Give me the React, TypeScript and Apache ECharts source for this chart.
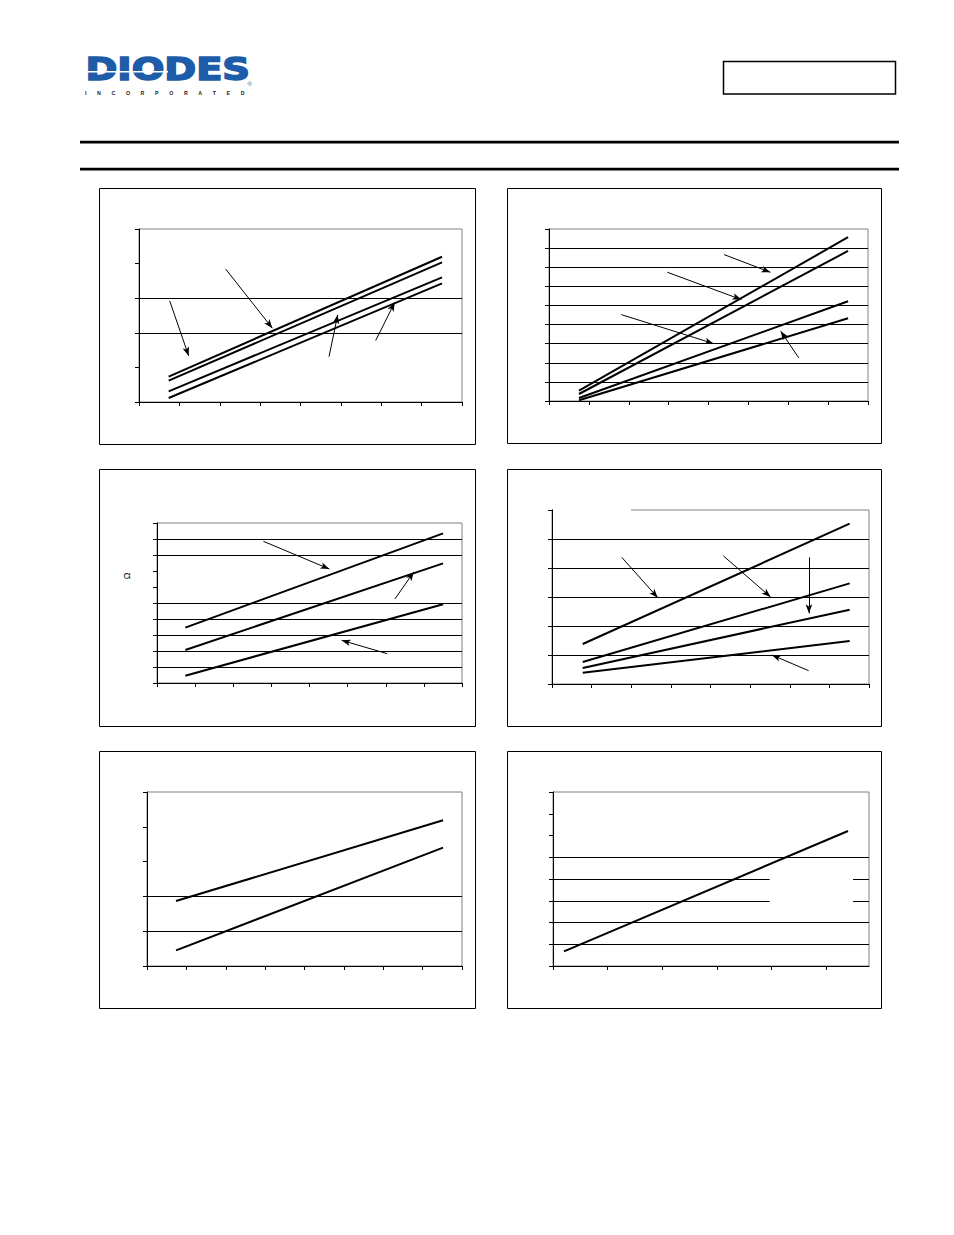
import React, { useEffect, useRef } from "react";
import * as echarts from "echarts";

// ---------- data (axis units = tick intervals) ----------
// Chart 1
const c1XMax = 8;
const c1YMax = 5;
const c1X = [0.735, 7.506];
const c1Lines = [[0.733, 4.199], [0.618, 4.035], [0.309, 3.6], [0.116, 3.427]];
const c1Grid = [2, 3];
const c1Arrows = [[0.76, 2.925, 1.231, 1.332], [2.147, 3.842, 3.303, 2.133], [4.707, 1.313, 4.922, 2.519], [5.862, 1.776, 6.333, 2.876]];

// Chart 2
const c2XMax = 8;
const c2YMax = 9;
const c2X = [0.752, 7.5];
const c2Lines = [[0.541, 8.569], [0.366, 7.853], [0.157, 5.218], [0.035, 4.328]];
const c2Grid = [1, 2, 3, 4, 5, 6, 7, 8];
const c2Arrows = [[4.39, 7.661, 5.552, 6.736], [2.968, 6.736, 4.824, 5.305], [1.814, 4.52, 4.13, 3.002], [6.263, 2.259, 5.811, 3.656]];

// Chart 3
const c3XMax = 8;
const c3YMax = 10;
const c3X = [0.742, 7.504];
const c3Lines = [[3.458, 9.354], [2.063, 7.479], [0.458, 4.917]];
const c3Grid = [1, 2, 3, 4, 5, 8, 9];
const c3Arrows = [[2.792, 8.854, 4.52, 7.125], [6.239, 5.25, 6.736, 6.938], [6.038, 1.833, 4.843, 2.667]];
const c3YName = "Ω";

// Chart 4
const c4XMax = 8;
const c4YMax = 6;
const c4X = [0.775, 7.512];
const c4Lines = [[1.379, 5.529], [0.759, 3.471], [0.552, 2.563], [0.391, 1.483]];
const c4Grid = [1, 2, 3, 4, 5];
const c4Arrows = [[1.76, 4.368, 2.669, 2.977], [4.328, 4.414, 5.516, 3.0], [6.484, 4.368, 6.484, 2.437], [6.476, 0.46, 5.549, 1.0]];

// Chart 5
const c5XMax = 8;
const c5YMax = 5;
const c5X = [0.737, 7.519];
const c5Lines = [[1.868, 4.186], [0.45, 3.4]];
const c5Grid = [1, 2];
const c5Arrows: number[][] = [];

// Chart 6
const c6XMax = 5.78;
const c6YMax = 8;
const c6XTicks = [0, 1, 2, 3, 4, 5];
const c6X = [0.201, 5.396];
const c6Lines = [[0.674, 6.207]];
const c6Grid = [1, 2, 5];
const c6GridBroken = [[3, 3.963, 5.488], [4, 3.963, 5.488]]; // [y, gapStart, gapEnd]

// Header texts
const logoText = "DIODES";
const logoSub = "INCORPORATED";

// ---------- layout ----------
const layouts = [
  { box: [99.5, 188.5, 376, 256], plot: [139, 229, 323, 173] },
  { box: [507.5, 188.5, 374, 255], plot: [549, 229, 319, 172] },
  { box: [99.5, 469.5, 376, 257], plot: [157, 523, 305, 160] },
  { box: [507.5, 469.5, 374, 257], plot: [552, 510, 317, 174] },
  { box: [99.5, 751.5, 376, 257], plot: [147, 792, 315, 174] },
  { box: [507.5, 751.5, 374, 257], plot: [553, 792, 316, 174] },
];

const charts = [
  { xMax: c1XMax, yMax: c1YMax, x: c1X, lines: c1Lines, grid: c1Grid, broken: [] as number[][], arrows: c1Arrows, xTicks: null as number[] | null },
  { xMax: c2XMax, yMax: c2YMax, x: c2X, lines: c2Lines, grid: c2Grid, broken: [], arrows: c2Arrows, xTicks: null },
  { xMax: c3XMax, yMax: c3YMax, x: c3X, lines: c3Lines, grid: c3Grid, broken: [], arrows: c3Arrows, xTicks: null },
  { xMax: c4XMax, yMax: c4YMax, x: c4X, lines: c4Lines, grid: c4Grid, broken: [], arrows: c4Arrows, xTicks: null },
  { xMax: c5XMax, yMax: c5YMax, x: c5X, lines: c5Lines, grid: c5Grid, broken: [], arrows: c5Arrows, xTicks: null },
  { xMax: c6XMax, yMax: c6YMax, x: c6X, lines: c6Lines, grid: c6Grid, broken: c6GridBroken, arrows: [], xTicks: c6XTicks },
];

function buildOption() {
  const grid: any[] = [];
  const xAxis: any[] = [];
  const yAxis: any[] = [];
  const series: any[] = [];
  const graphics: any[] = [];

  charts.forEach((c, i) => {
    const [l, t, w, h] = layouts[i].plot;
    grid.push({ left: l, top: t, width: w, height: h, show: true, borderColor: "#808080", borderWidth: 1, backgroundColor: "transparent", containLabel: false });
    const axisCommon = {
      type: "value",
      gridIndex: i,
      min: 0,
      interval: 1,
      z: 3,
      axisLine: { show: true, onZero: false, lineStyle: { color: "#000", width: 1 } },
      axisLabel: { show: false },
      splitLine: { show: false },
    };
    xAxis.push({
      ...axisCommon,
      max: c.xMax,
      axisTick: c.xTicks
        ? { show: true, length: 4, lineStyle: { color: "#000", width: 1 }, customValues: c.xTicks }
        : { show: true, length: 4, lineStyle: { color: "#000", width: 1 } },
    });
    yAxis.push({
      ...axisCommon,
      max: c.yMax,
      axisTick: { show: true, length: 4, lineStyle: { color: "#000", width: 1 } },
    });

    // gridlines
    const gridPairs: any[] = c.grid.map((v) => [{ coord: [0, v] }, { coord: [c.xMax, v] }]);
    c.broken.forEach(([v, g0, g1]) => {
      gridPairs.push([{ coord: [0, v] }, { coord: [g0, v] }]);
      gridPairs.push([{ coord: [g1, v] }, { coord: [c.xMax, v] }]);
    });
    series.push({
      type: "line",
      xAxisIndex: i,
      yAxisIndex: i,
      data: [],
      silent: true,
      clip: false,
      z: 1,
      markLine: {
        silent: true,
        symbol: "none",
        label: { show: false },
        emphasis: { disabled: true },
        lineStyle: { color: "#000", width: 1, type: "solid" },
        data: gridPairs,
      },
    });

    // data lines
    c.lines.forEach((ys) => {
      series.push({
        type: "line",
        xAxisIndex: i,
        yAxisIndex: i,
        data: [[c.x[0], ys[0]], [c.x[1], ys[1]]],
        symbol: "none",
        showSymbol: false,
        silent: true,
        z: 3,
        lineStyle: { color: "#000", width: 2 },
      });
    });

    // arrows
    if (c.arrows.length) {
      series.push({
        type: "line",
        xAxisIndex: i,
        yAxisIndex: i,
        data: [],
        silent: true,
        clip: false,
        z: 4,
        markLine: {
          silent: true,
          symbol: ["none", "arrow"],
          symbolSize: [5, 9],
          label: { show: false },
          emphasis: { disabled: true },
          lineStyle: { color: "#000", width: 1, type: "solid" },
          itemStyle: { color: "#000" },
          data: c.arrows.map(([x0, y0, x1, y1]) => [{ coord: [x0, y0] }, { coord: [x1, y1] }]),
        },
      });
    }

    // outer box
    const [bx, by, bw, bh] = layouts[i].box;
    graphics.push({ type: "rect", shape: { x: bx, y: by, width: bw, height: bh }, style: { fill: "none", stroke: "#000", lineWidth: 1 }, z: 50 });
  });

  // chart 4: top border is interrupted at the left
  graphics.push({ type: "rect", shape: { x: 553, y: 508.5, width: 78, height: 3 }, style: { fill: "#fff" }, z: 100 });

  // chart 3 y-axis name
  graphics.push({
    type: "text",
    x: 126.5,
    y: 576,
    rotation: Math.PI / 2,
    style: { text: c3YName, font: '9px "Liberation Sans", Arial, sans-serif', fill: "#000", textAlign: "center", textVerticalAlign: "middle" },
    z: 100,
  });

  // header: logo
  graphics.push({
    type: "text",
    x: 85.5,
    y: 68.3,
    scaleX: 1.2,
    style: {
      text: logoText,
      font: 'bold 32px "DejaVu Sans", "Liberation Sans", Arial, sans-serif',
      fill: "#1d5ca8",
      stroke: "#1d5ca8",
      lineWidth: 1.6,
      textAlign: "left",
      textVerticalAlign: "middle",
    },
    z: 100,
  });
  graphics.push({ type: "rect", shape: { x: 85, y: 71, width: 83, height: 1.6 }, style: { fill: "#fff" }, z: 101 });
  graphics.push({
    type: "text",
    x: 247.5,
    y: 84,
    style: { text: "®", font: '6px "Liberation Sans", Arial, sans-serif', fill: "#1d5ca8", textAlign: "left", textVerticalAlign: "middle" },
    z: 100,
  });
  graphics.push({
    type: "text",
    x: 85,
    y: 93.4,
    style: {
      text: logoSub.split("").join("\u2003\u2003"),
      font: 'bold 5.3px "Liberation Sans", Arial, sans-serif',
      fill: "#222",
      textAlign: "left",
      textVerticalAlign: "middle",
    },
    z: 100,
  });

  // header: part-number box and rules
  graphics.push({ type: "rect", shape: { x: 723.5, y: 61.5, width: 172, height: 32.5 }, style: { fill: "none", stroke: "#000", lineWidth: 1.5 }, z: 100 });
  graphics.push({ type: "rect", shape: { x: 80, y: 140.8, width: 819, height: 2.6 }, style: { fill: "#000" }, z: 100 });
  graphics.push({ type: "rect", shape: { x: 80, y: 167.8, width: 819, height: 2.6 }, style: { fill: "#000" }, z: 100 });

  return {
    animation: false,
    backgroundColor: "#fff",
    grid,
    xAxis,
    yAxis,
    series,
    graphic: { elements: graphics },
  };
}

export default function App() {
  const ref = useRef<HTMLDivElement>(null);
  useEffect(() => {
    if (!ref.current) return;
    const chart = echarts.init(ref.current, undefined, { renderer: "svg" });
    chart.setOption(buildOption() as any);
    return () => chart.dispose();
  }, []);
  return (
    <div
      ref={ref}
      style={{ position: "absolute", left: 0, top: 0, width: 954, height: 1235, background: "#fff" }}
    />
  );
}
